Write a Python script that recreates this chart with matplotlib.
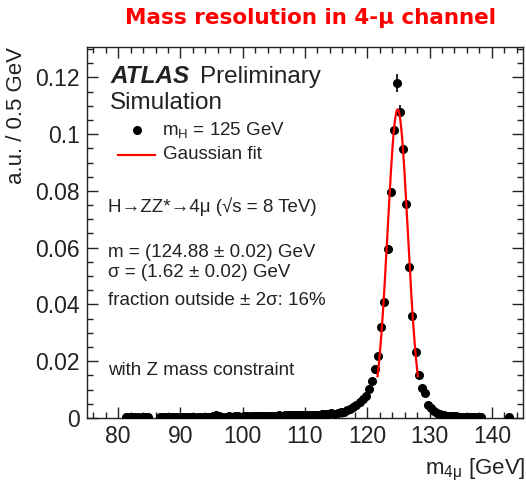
import numpy as np
import matplotlib
matplotlib.use("Agg")
import matplotlib.pyplot as plt
from matplotlib.ticker import MultipleLocator, FuncFormatter

plt.rcParams['font.family'] = ['Liberation Sans', 'DejaVu Sans']
plt.rcParams['mathtext.fontset'] = 'custom'
plt.rcParams['mathtext.rm'] = 'Liberation Sans'
plt.rcParams['mathtext.it'] = 'Liberation Sans:italic'

# ---- data: bin centres (0.5 GeV bins) and normalised content ----
mass_low = np.arange(81.25, 85.0, 0.5)
val_low = [0.0003, 0.0004, 0.0003, 0.0004, 0.0003, 0.0004, 0.0003, 0.0004]

mass_main = np.arange(86.75, 138.5, 0.5)
val_main = [
    # 86.75 - 99.75
    0.0003, 0.0004, 0.0003, 0.0004, 0.0004, 0.0003, 0.0004, 0.0004, 0.0005,
    0.0004, 0.0004, 0.0005, 0.0004, 0.0005, 0.0005, 0.0004, 0.0005, 0.0006,
    0.0009, 0.0007, 0.0005, 0.0005, 0.0006, 0.0005, 0.0006, 0.0006, 0.0005,
    # 100.25 - 109.75
    0.0006, 0.0007, 0.0006, 0.0007, 0.0008, 0.0007, 0.0006, 0.0008, 0.0008, 0.0007,
    0.0008, 0.0009, 0.0008, 0.0009, 0.0010, 0.0009, 0.0009, 0.0010, 0.0010, 0.0011,
    # 110.25 - 114.75
    0.0010, 0.0011, 0.0012, 0.0011, 0.0012, 0.0014, 0.0013, 0.0015, 0.0016, 0.0015,
    # 115.25 - 119.75
    0.0017, 0.0020, 0.0022, 0.0028, 0.0032, 0.0040, 0.0046, 0.0058, 0.0067, 0.0078,
    # 120.25 - 124.75
    0.0101, 0.0130, 0.0172, 0.0220, 0.0320, 0.0407, 0.0597, 0.0797, 0.1014, 0.1181,
    # 125.25 - 129.75
    0.1079, 0.0946, 0.0755, 0.0531, 0.0361, 0.0232, 0.0153, 0.0105, 0.0087, 0.0046,
    # 130.25 - 134.75
    0.0034, 0.0025, 0.0019, 0.0014, 0.0010, 0.0008, 0.0007, 0.0006, 0.0006, 0.0005,
    # 135.25 - 138.25
    0.0005, 0.0004, 0.0005, 0.0004, 0.0004, 0.0003, 0.0003,
]

mass_high = [142.75]
val_high = [0.0002]

# visible statistical error bars (peak bins)
err_mass = [124.25, 124.75, 125.25]
err_val = [0.1014, 0.1181, 0.1079]
err_size = [0.0015, 0.0032, 0.0025]

# Gaussian fit parameters (as quoted on the plot)
fit_mean = 124.88
fit_sigma = 1.62
fit_amp = 0.1087

# ---- figure ----
fig = plt.figure(figsize=(5.26, 4.82), dpi=100)
ax = fig.add_axes([87/526, 64/482, 436/526, 371/482])

mass_all = np.concatenate([mass_low, mass_main, mass_high])
val_all = np.concatenate([val_low, val_main, val_high])
ax.errorbar(err_mass, err_val, yerr=err_size, fmt='none', ecolor='black',
            elinewidth=1.2, capsize=0, zorder=3)
ax.plot(mass_all, val_all, 'o', color='black', ms=5.5, zorder=4)

xf = np.linspace(fit_mean - 2*fit_sigma, fit_mean + 2*fit_sigma, 200)
yf = fit_amp * np.exp(-0.5 * ((xf - fit_mean) / fit_sigma) ** 2)
ax.plot(xf, yf, color='#ff0000', lw=1.6, zorder=5)

ax.set_xlim(75, 145)
ax.set_ylim(0, 0.1307)
ax.xaxis.set_major_locator(MultipleLocator(10))
ax.xaxis.set_minor_locator(MultipleLocator(2))
ax.yaxis.set_major_locator(MultipleLocator(0.02))
ax.yaxis.set_minor_locator(MultipleLocator(0.005))
ax.yaxis.set_major_formatter(FuncFormatter(lambda v, p: '%g' % round(v, 4)))
ax.tick_params(which='both', direction='in', top=True, right=True,
               colors='#222222', labelcolor='#222222')
ax.tick_params(which='major', length=8, width=1.0, labelsize=16.5, pad=5)
ax.tick_params(which='minor', length=4, width=1.0)
for s in ax.spines.values():
    s.set_color('#222222')
    s.set_linewidth(1.0)

tc = '#222222'
# axis titles (ROOT style: aligned to the axis ends)
fig.text(17/526, (482 - 47)/482, 'a.u. / 0.5 GeV', rotation=90,
         fontsize=16, color=tc, ha='center', va='top')
fig.text(525/526, (482 - 474)/482, r'$\mathregular{m_{4\mu}}$ [GeV]',
         fontsize=16, color=tc, ha='right', va='baseline')

ax.text(0.053, 0.903, 'ATLAS', transform=ax.transAxes, fontsize=17.5,
        fontweight='bold', fontstyle='italic', color=tc, va='baseline')
ax.text(0.259, 0.903, 'Preliminary', transform=ax.transAxes, fontsize=17.5,
        color=tc, va='baseline')
ax.text(0.053, 0.833, 'Simulation', transform=ax.transAxes, fontsize=17.5,
        color=tc, va='baseline')

ax.plot([0.115], [0.776], 'o', color='black', ms=5.5, transform=ax.transAxes)
ax.text(0.172, 0.776, r'$\mathregular{m_{H}}$ = 125 GeV', transform=ax.transAxes,
        fontsize=13.5, color=tc, va='center')
ax.plot([0.071, 0.156], [0.709, 0.709], color='#ff0000', lw=1.6,
        transform=ax.transAxes)
ax.text(0.175, 0.709, 'Gaussian fit', transform=ax.transAxes,
        fontsize=13.5, color=tc, va='center')

ax.text(0.048, 0.571, 'H→ZZ*→4μ (√s = 8 TeV)',
        transform=ax.transAxes, fontsize=13.5, color=tc, va='center')
ax.text(0.048, 0.447, 'm = (124.88 ± 0.02) GeV', transform=ax.transAxes,
        fontsize=13.5, color=tc, va='center')
ax.text(0.048, 0.392, 'σ = (1.62 ± 0.02) GeV', transform=ax.transAxes,
        fontsize=13.5, color=tc, va='center')
ax.text(0.048, 0.316, 'fraction outside ± 2σ: 16%', transform=ax.transAxes,
        fontsize=13.5, color=tc, va='center')
ax.text(0.048, 0.129, 'with Z mass constraint', transform=ax.transAxes,
        fontsize=13.5, color=tc, va='center')

fig.text(0.591, 0.963, 'Mass resolution in 4-μ channel', color='#ff0000',
         fontsize=15.5, fontweight='bold', ha='center', va='center',
         family=['DejaVu Sans'])

fig.savefig('out.png', dpi=100)
